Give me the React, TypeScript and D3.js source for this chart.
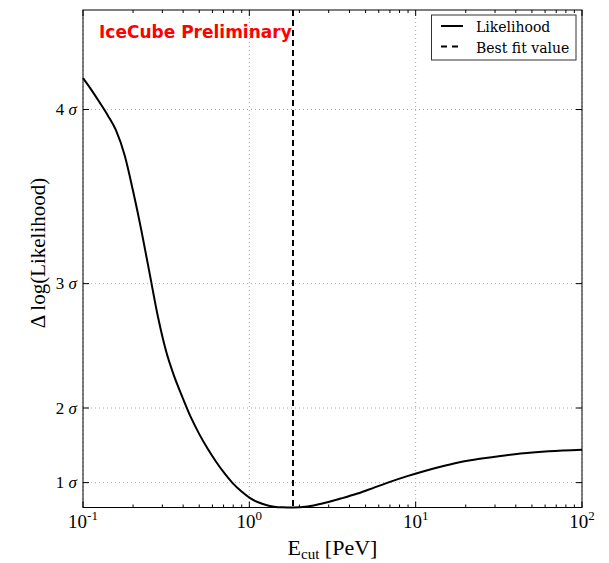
import React from "react";
import * as d3 from "d3";

const energy = [0.1, 0.112, 0.126, 0.141, 0.158, 0.178, 0.2, 0.224, 0.251, 0.282, 0.316, 0.355, 0.398, 0.447, 0.501, 0.562, 0.631, 0.708, 0.794, 0.891, 1.0, 1.12, 1.26, 1.41, 1.58, 1.83, 2.24, 2.82, 3.55, 4.47, 5.62, 7.08, 8.91, 11.2, 14.1, 17.8, 22.4, 31.6, 44.7, 63.1, 100];
const dLogL = [8.63, 8.4, 8.14, 7.88, 7.58, 7.08, 6.36, 5.58, 4.72, 3.84, 3.14, 2.62, 2.2, 1.8, 1.47, 1.18, 0.92, 0.69, 0.49, 0.33, 0.2, 0.11, 0.05, 0.017, 0.004, 0, 0.02, 0.09, 0.18, 0.28, 0.4, 0.52, 0.63, 0.73, 0.82, 0.9, 0.96, 1.03, 1.09, 1.13, 1.16];
const bestFit = 1.83;
const sigmaLevels = [1, 2, 3, 4];
const xDecades = [-1, 0, 1, 2];

const W = 609, H = 563;
const M = { left: 83, right: 582, top: 10, bottom: 507.5 };
const serif = "'Liberation Serif', 'DejaVu Serif', serif";

export default function App() {
  const x = d3.scaleLog().domain([0.1, 100]).range([M.left, M.right]);
  const y = d3.scaleLinear().domain([0, 10]).range([M.bottom, M.top]);
  const pts = energy.map((e, i) => [e, dLogL[i]] as [number, number]);
  const line = d3.line<[number, number]>().x(d => x(d[0])).y(d => y(d[1])).curve(d3.curveMonotoneX);

  const minor: number[] = [];
  for (let d = -1; d < 2; d++) for (let k = 2; k <= 9; k++) minor.push(k * Math.pow(10, d));
  const gridStyle = { stroke: "#aaa", strokeWidth: 1, strokeDasharray: "1,3" };

  return (
    <svg width={W} height={H} style={{ position: "absolute", left: 0, top: 0, background: "#fff" }}>
      <rect width={W} height={H} fill="#fff" />
      {xDecades.map(d => (
        <line key={"gx" + d} x1={x(Math.pow(10, d))} x2={x(Math.pow(10, d))} y1={M.top} y2={M.bottom} {...gridStyle} />
      ))}
      {sigmaLevels.map(s => (
        <line key={"gy" + s} x1={M.left} x2={M.right} y1={y(s * s / 2)} y2={y(s * s / 2)} {...gridStyle} />
      ))}
      <path d={line(pts) || ""} fill="none" stroke="#000" strokeWidth={2} />
      <line x1={x(bestFit)} x2={x(bestFit)} y1={M.top} y2={M.bottom} stroke="#000" strokeWidth={2} strokeDasharray="6,4" />
      <rect x={M.left} y={M.top} width={M.right - M.left} height={M.bottom - M.top} fill="none" stroke="#000" strokeWidth={1} />
      {xDecades.map(d => {
        const px = x(Math.pow(10, d));
        return (
          <g key={"xt" + d}>
            <line x1={px} x2={px} y1={M.bottom} y2={M.bottom - 6} stroke="#000" />
            <line x1={px} x2={px} y1={M.top} y2={M.top + 6} stroke="#000" />
            <text x={px} y={528} fontFamily={serif} fontSize={19} textAnchor="middle" fill="#000">
              10<tspan dy={-8} fontSize={13}>{d}</tspan>
            </text>
          </g>
        );
      })}
      {minor.map((m, i) => (
        <g key={"mx" + i}>
          <line x1={x(m)} x2={x(m)} y1={M.bottom} y2={M.bottom - 3} stroke="#000" />
          <line x1={x(m)} x2={x(m)} y1={M.top} y2={M.top + 3} stroke="#000" />
        </g>
      ))}
      {sigmaLevels.map(s => {
        const py = y(s * s / 2);
        return (
          <g key={"yt" + s}>
            <line x1={M.left} x2={M.left + 6} y1={py} y2={py} stroke="#000" />
            <line x1={M.right} x2={M.right - 6} y1={py} y2={py} stroke="#000" />
            <text x={77} y={py + 5.5} fontFamily={serif} fontSize={17} textAnchor="end" fill="#000">
              {s} <tspan fontStyle="italic">σ</tspan>
            </text>
          </g>
        );
      })}
      <text x={(M.left + M.right) / 2} y={555} fontFamily={serif} fontSize={22} textAnchor="middle" fill="#000">
        E<tspan dy={4} fontSize={15}>cut</tspan><tspan dy={-4}> [PeV]</tspan>
      </text>
      <text transform="translate(45,253) rotate(-90)" fontFamily={serif} fontSize={21} textAnchor="middle" fill="#000">
        Δ log(Likelihood)
      </text>
      <text x={99} y={38} fontFamily="'DejaVu Sans', sans-serif" fontWeight="bold" fontSize={17} fill="#ff0000">
        IceCube Preliminary
      </text>
      <rect x={431.5} y={15} width={144.5} height={45} fill="#fff" stroke="#333" strokeWidth={1} />
      <line x1={441} x2={463} y1={26} y2={26} stroke="#000" strokeWidth={2} />
      <line x1={441} x2={463} y1={46.5} y2={46.5} stroke="#000" strokeWidth={2} strokeDasharray="6,5" />
      <text x={476} y={32} fontFamily="'DejaVu Serif', serif" fontSize={14} fill="#000">Likelihood</text>
      <text x={476} y={52.5} fontFamily="'DejaVu Serif', serif" fontSize={14} fill="#000">Best fit value</text>
    </svg>
  );
}
